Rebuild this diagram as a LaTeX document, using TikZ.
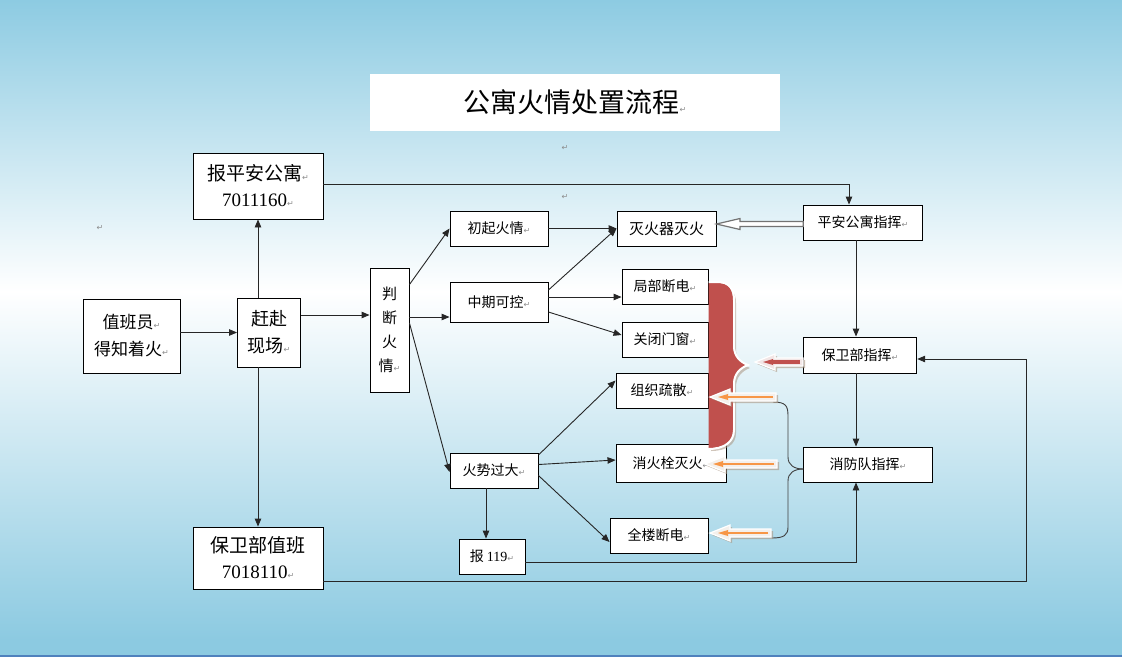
\documentclass[tikz,border=0pt]{standalone}
\usepackage{fontspec}
\setmainfont{Liberation Serif}
\newfontfamily\cjk{Noto Sans CJK SC}
\newfontfamily\symf{DejaVu Sans}
\usetikzlibrary{arrows.meta,calc}
\definecolor{skytop}{RGB}{141,203,226}
\definecolor{skybot}{RGB}{140,202,225}
\definecolor{bred}{RGB}{192,80,77}
\definecolor{borange}{RGB}{247,150,70}
\definecolor{lpeach}{RGB}{244,240,236}
\definecolor{lpink}{RGB}{242,230,230}
\definecolor{shadowc}{RGB}{170,150,130}
\definecolor{edgeblue}{RGB}{79,129,189}
\newcommand\parmk{{\symf\color{black!45}\fontsize{8}{8}\selectfont ↵}}
\newcommand\barrow[6]{%
  \fill[shadowc,opacity=.6] ({#1+2},{#3+2}) -- ({#1+22},{#3-6}) -- ({#1+22},{#3-2}) -- ({#2+2},{#3-2}) -- ({#2+2},{#3+6}) -- ({#1+22},{#3+6}) -- ({#1+22},{#3+10}) -- cycle;
  \filldraw[fill=#4, draw=white, line width=1.2pt] (#1,#3) -- ({#1+20},{#3-8}) -- ({#1+20},{#3-4}) -- (#2,{#3-4}) -- (#2,{#3+4}) -- ({#1+20},{#3+4}) -- ({#1+20},{#3+8}) -- cycle;
  \draw[#5, line width=#6] ({#2-3},#3) -- ({#1+16},#3);
  \fill[#5] ({#1+8},#3) -- ({#1+18},{#3-3}) -- ({#1+18},{#3+3}) -- cycle;
}
\tikzset{
  box/.style={draw=black, fill=white, line width=0.9pt, inner sep=0pt, align=center,
    font=\cjk\fontsize{14}{16}\selectfont},
  bigbox/.style={box, font=\cjk\fontsize{19}{26}\selectfont},
  arr/.style={draw=black!85, line width=0.9pt, -{Triangle[length=8pt,width=6.5pt]}},
  brace/.style={draw=black!75, line width=0.9pt},
  pmnode/.style={inner sep=0pt}
}
\begin{document}
\begin{tikzpicture}[x=1pt,y=-1pt]
\useasboundingbox (0,0) rectangle (1122,657);
\shade[top color=skytop, bottom color=white] (0,0) rectangle (1122,292);
\shade[top color=white, bottom color=skybot] (0,291) rectangle (1122,640);
\fill[skybot] (0,639) rectangle (1122,656);
\fill[edgeblue] (0,655) rectangle (1122,657);

% title
\node[fill=white, minimum width=410, minimum height=57, inner sep=0pt] (title) at (575,102)
  {\cjk\fontsize{27}{30}\selectfont 公寓火情处置流程\parmk};
\node[pmnode] (m1) at (565,148) {\parmk};
\node[pmnode] (m2) at (565,197) {\parmk};
\node[pmnode] (m3) at (100,228) {\parmk};

% left column
\node[bigbox, minimum width=130, minimum height=66] (bpa) at (258,186) {报平安公寓\parmk\\{\rmfamily 7011160}\parmk};
\node[box, font=\cjk\fontsize{17}{27}\selectfont, minimum width=97, minimum height=74] (zby) at (131.5,336) {值班员\parmk\\得知着火\parmk};
\node[box, font=\cjk\fontsize{18}{27}\selectfont, minimum width=63, minimum height=69] (gfxc) at (269,332.5) {赶赴\\现场\parmk};
\node[bigbox, minimum width=130, minimum height=62] (bwzb) at (258,558) {保卫部值班\\{\rmfamily 7018110}\parmk};
\node[box, font=\cjk\fontsize{15}{24}\selectfont, minimum width=39, minimum height=124] (pd) at (389.5,330) {判\\断\\火\\情\parmk};

% situation column
\node[box, minimum width=98, minimum height=35] (cq) at (499,228.5) {初起火情\parmk};
\node[box, minimum width=98, minimum height=40] (zq) at (499,302) {中期可控\parmk};
\node[box, minimum width=88, minimum height=35] (hs) at (494,470.5) {火势过大\parmk};
\node[box, minimum width=66, minimum height=35] (b119) at (492,556.5) {报 {\rmfamily 119}\parmk};

% action column
\node[box, font=\cjk\fontsize{15}{16}\selectfont, minimum width=99, minimum height=35] (mhq) at (666.5,228.5) {灭火器灭火};
\node[box, minimum width=86, minimum height=35] (jb) at (665,286.5) {局部断电\parmk};
\node[box, minimum width=86, minimum height=35] (gb) at (665,339.5) {关闭门窗\parmk};
\node[box, minimum width=92, minimum height=35] (zz) at (662,390.5) {组织疏散\parmk};
\node[box, minimum width=110, minimum height=38] (xhs) at (671,463) {消火栓灭火\parmk};
\node[box, minimum width=98, minimum height=35] (ql) at (659,535.5) {全楼断电\parmk};

% command column
\node[box, minimum width=118.5, minimum height=35] (pa) at (863,222.5) {平安公寓指挥\parmk};
\node[box, minimum width=113.5, minimum height=36] (bw) at (860,355) {保卫部指挥\parmk};
\node[box, minimum width=128.5, minimum height=35] (xf) at (868,464.5) {消防队指挥\parmk};

\coordinate (rt) at (1026,359);

% connectors
\draw[arr] (zby.east |- gfxc.west) -- (gfxc.west);
\draw[arr] ([yshift=17.5pt]gfxc.east) -- ([yshift=17.5pt]gfxc.east -| pd.west);
\draw[arr] (bpa.south |- gfxc.north) -- (bpa.south);
\draw[arr] (bwzb.north |- gfxc.south) -- (bwzb.north);
\draw[arr] ([yshift=2pt]bpa.east) -| ([xshift=-14pt]pa.north);
\draw[arr] ([yshift=-17pt]pd.north east) -- (cq.west);
\draw[arr] ([yshift=-15pt]zq.west -| pd.east) -- ([yshift=-15pt]zq.west);
\draw[arr] ([yshift=7pt]pd.east) -- ([yshift=-1.5pt]hs.west);
\draw[arr] (cq.east) -- (mhq.west);
\draw[arr] ([yshift=12pt]zq.east) -- (mhq.west);
\draw[arr] ([yshift=5pt]zq.east) -- ([yshift=5pt]zq.east -| jb.west);
\draw[arr] ([yshift=-10pt]zq.east) -- ([yshift=4.5pt]gb.west);
\draw[arr] ([yshift=15.5pt]hs.east) -- ([yshift=10pt]zz.west);
\draw[arr] ([yshift=6pt]hs.east) -- ([yshift=3pt]xhs.west);
\draw[arr] ([yshift=-5pt]hs.east) -- ([yshift=-6.5pt]ql.west);
\draw[arr] ([xshift=-8pt]hs.south) -- ([xshift=-8pt]hs.south |- b119.north);
\draw[arr] ([yshift=-6pt]b119.east) -| ([xshift=-12pt]xf.south);
\draw[arr] ([xshift=-7pt]pa.south) -- ([xshift=-7pt]pa.south |- bw.north);
\draw[arr] ([xshift=-4pt]bw.south) -- ([xshift=-4pt]bw.south |- xf.north);
\draw[arr] ([yshift=-23pt]bwzb.east) -| (rt) -- (rt -| bw.east);

% brace from fire brigade
\coordinate (bt) at ([yshift=-4.5pt]xf.west);
\draw[brace] (773,402) .. controls (786,402) and (788,406) .. (788,416) -- (788,457)
  .. controls (788,465) and (794,469) .. (bt);
\draw[brace] (bt) .. controls (794,469) and (788,473) .. (788,481) -- (788,527)
  .. controls (788,535) and (784,538) .. (772,538);

% hollow arrow 平安公寓指挥 -> 灭火器灭火
\filldraw[fill=white, draw=black!55, line width=1.2pt] (mhq.east |- 0,224) -- (740,218.5) -- (740,221.5) -- (pa.west |- 0,221.5) -- (pa.west |- 0,226.5) -- (740,226.5) -- (740,229.5) -- cycle;

% red brace shape
\fill[shadowc, opacity=.55] (711,286) -- (720,286) .. controls (731,286) and (736,293) .. (736,303) -- (736,349) .. controls (736,359) and (742,365) .. (750,368) .. controls (742,371) and (736,377) .. (736,387) -- (736,433) .. controls (736,444) and (727,451) .. (711,451) -- cycle;
\fill[bred] (708.5,283) -- (718,283) .. controls (729,283) and (733,290) .. (733,300) -- (733,346) .. controls (733,356) and (739,362) .. (747,365) .. controls (739,368) and (733,374) .. (733,384) -- (733,430) .. controls (733,441) and (724,448) .. (708.5,448) -- cycle;
\draw[white, line width=2pt] (708.5,282) -- (718,282) .. controls (730,282) and (734,290) .. (734,300) -- (734,346) .. controls (734,356) and (740,362) .. (748,365) .. controls (740,368) and (734,374) .. (734,384) -- (734,430) .. controls (734,442) and (724,449) .. (708.5,449);

% block arrows
\barrow{755}{803}{362}{lpink}{bred}{3.5pt}
\barrow{710}{776}{397}{lpeach}{borange}{2pt}
\barrow{705}{777}{464}{lpeach}{borange}{2.4pt}
\barrow{710}{771}{533}{lpeach}{borange}{2pt}
\end{tikzpicture}
\end{document}
